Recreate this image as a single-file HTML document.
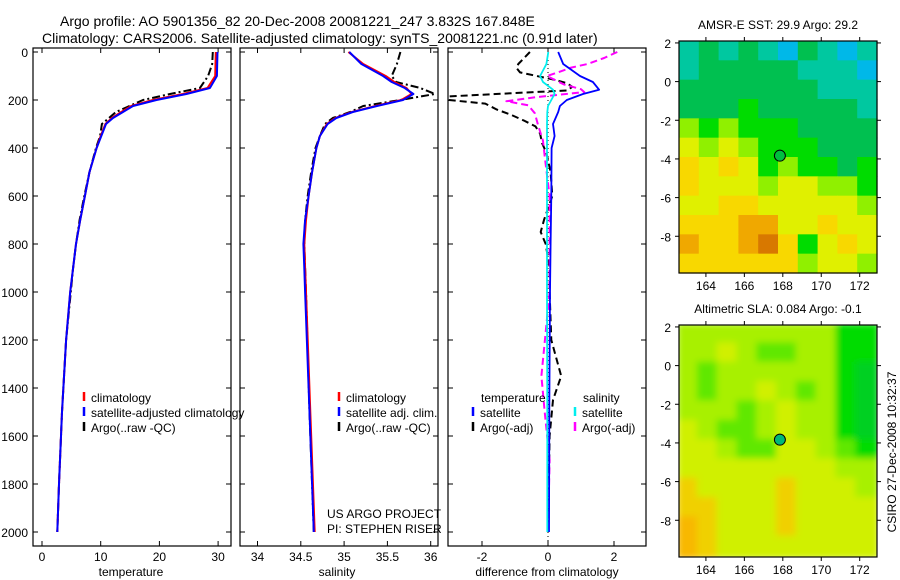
<!DOCTYPE html>
<html><head><meta charset="utf-8"><style>
html,body{margin:0;padding:0;background:#fff;}
svg{display:block;font-family:"Liberation Sans",sans-serif;}
</style></head><body>
<svg id="c" width="900" height="580" viewBox="0 0 900 580">
<defs>
<clipPath id="cp1"><rect x="33" y="48" width="198" height="498"/></clipPath>
<clipPath id="cp2"><rect x="240" y="48" width="198" height="498"/></clipPath>
<clipPath id="cp3"><rect x="448" y="48" width="199" height="498"/></clipPath>
<clipPath id="cpm2"><rect x="679" y="325" width="198" height="232"/></clipPath>
<filter id="blur" x="-5%" y="-5%" width="110%" height="110%"><feGaussianBlur stdDeviation="3.5"/></filter>
</defs>
<text x="60" y="26" font-size="14">Argo profile: AO 5901356_82 20-Dec-2008 20081221_247 3.832S 167.848E</text>
<text x="42" y="43" font-size="14">Climatology: CARS2006. Satellite-adjusted climatology: synTS_20081221.nc (0.91d later)</text>
<g id="g"></g>
</svg>
<script>
// ---------- profile data ----------
const depthT = [0,100,150,175,200,225,250,275,300,350,400,500,600,700,800,900,1000,1200,1500,1800,2000];
const tempSat = [29.9,29.8,28.6,24.6,19.5,15.5,13.8,12.1,10.9,10.1,9.3,8.1,7.3,6.5,5.8,5.3,4.8,4.1,3.4,2.9,2.6];
const tempClim = [29.6,29.5,28.2,24.0,18.9,15.2,13.5,11.9,10.8,10.0,9.3,8.1,7.3,6.5,5.8,5.3,4.8,4.1,3.4,2.9,2.6];
const depthA = [0,50,100,150,175,200,250,300,350,400,500,600,700,800,900,1000,1200,1500,1800,2000];
const tempArgo = [29.1,29.0,28.3,26.9,21.8,17.2,12.6,10.2,9.9,9.2,8.1,7.2,6.4,5.8,5.3,4.9,4.1,3.4,2.9,2.6];
const depthS = [0,50,100,125,150,175,200,225,250,275,300,350,400,500,600,700,800,900,1000,1500,2000];
const salSat = [35.06,35.2,35.45,35.55,35.7,35.8,35.68,35.38,35.1,34.91,34.81,34.72,34.68,34.63,34.59,34.55,34.53,34.54,34.55,34.6,34.65];
const salClim = [35.05,35.22,35.48,35.58,35.72,35.78,35.66,35.36,35.09,34.9,34.8,34.72,34.68,34.63,34.59,34.56,34.54,34.55,34.56,34.61,34.66];
const salArgo = [35.65,35.61,35.55,35.6,35.88,36.05,35.65,35.22,35.07,34.87,34.78,34.72,34.67,34.62,34.58,34.55,34.54,34.55,34.56,34.6,34.65];
const depthD = [0,50,100,125,157,175,200,225,250,300,350,400,600,800,1000,1500,2000];
const dTempSat = [0.31,0.46,0.97,1.36,1.55,1.06,0.57,0.36,0.31,0.15,0.2,0.11,0.1,0.08,0.06,0.04,0.03];
const dSalSat = [0.01,-0.05,-0.24,-0.15,0.15,0.2,0.1,0.0,-0.02,-0.03,-0.03,-0.03,-0.03,-0.03,-0.03,-0.02,-0.02];
const depthDA = [0,50,67,85,100,115,130,145,160,185,200,215,240,260,285,310,340,380,420,500,600,700,750,800,900,1000,1200,1350,1450,1600,2000];
const dTempArgo = [-0.55,-0.9,-0.95,-0.85,-0.34,0.18,0.58,0.73,0.6,-3.0,-3.0,-1.9,-1.55,-1.15,-0.74,-0.38,-0.24,-0.18,-0.05,0.08,0.13,-0.12,-0.22,-0.07,0.05,0.05,0.1,0.4,0.15,0.05,0.0];
const depthSA = [0,25,50,65,85,100,135,155,167,188,205,222,255,305,370,435,600,1000,1350,1500,1700,2000];
const dSalArgo = [2.1,1.7,1.2,0.7,0.3,-0.03,0.48,1.0,1.1,-0.35,-1.26,-0.6,-0.4,-0.3,-0.15,-0.1,0.05,0.05,-0.2,-0.1,0.05,0.0];
const depthTicks = [0,200,400,600,800,1000,1200,1400,1600,1800,2000];
const tempTicks = [0,10,20,30];
const salTicks = [34,34.5,35,35.5,36];
const salTickLabels = ["34","34.5","35","35.5","36"];
const diffTicks = [-2,0,2];
const diffTickLabels = ["-2","0","2"];
// ---------- map data (colour level per 1-degree cell, rows north->south) ----------
const sstGrid = [
[1,2,1,2,1,0,2,1,0,1],
[1,2,2,2,2,2,1,1,1,0],
[2,2,2,2,2,2,2,1,1,1],
[2,2,2,3,2,2,2,2,2,1],
[4,3,4,3,3,3,2,2,2,2],
[5,4,5,4,3,3,3,2,2,2],
[6,5,6,5,3,4,3,3,2,3],
[6,5,5,5,4,5,5,4,4,3],
[5,5,6,6,5,5,5,5,5,4],
[6,6,6,7,7,5,5,6,5,5],
[7,6,6,7,8,6,3,5,6,5],
[6,6,6,6,6,6,4,5,5,4]];
const slaGrid = [
[4,4,4,4,4,4,4,4,2,2],
[4,4,5,4,3,3,4,4,2,2],
[4,3,4,4,4,4,4,4,2,1],
[4,3,4,4,5,4,3,4,2,1],
[4,4,4,3,4,5,4,4,2,1],
[5,4,3,3,4,5,4,4,2,1],
[5,5,4,3,3,5,5,4,3,2],
[5,5,5,5,5,5,5,5,4,4],
[6,5,5,5,5,6,5,5,5,4],
[6,6,5,5,5,6,5,5,5,5],
[7,6,5,5,5,6,5,5,5,5],
[7,6,5,5,5,5,5,5,5,5]];
const lonTicks = [164,166,168,170,172];
const latTicks = [2,0,-2,-4,-6,-8];
const argoLon = 167.848, argoLat = -3.832;

const sstColors = ['#00b8e8','#00c8a0','#00c050','#00dc00','#90f000','#e0f000','#f8d800','#f0a800','#d87800'];
const slaColors = ['#00c8a0','#00d020','#00dc00','#60e800','#a8f000','#d0f000','#f0d000','#f8b800'];

const NS='http://www.w3.org/2000/svg';
const G=document.getElementById('g');
function mk(tag,attrs,parent){const e=document.createElementNS(NS,tag);for(const k in attrs)e.setAttribute(k,attrs[k]);(parent||G).appendChild(e);return e;}
const yD = d => 52 + d*0.24;
const xT = v => 42 + v*5.87;
const xS = v => 257.5 + (v-34)*86.6;
const xDf = v => 548 + v*33;
const panels=[{x:33,name:'temperature'},{x:240,name:'salinity'},{x:448,name:'difference'}];
panels.forEach(p=>{
  const r=mk('rect',{x:p.x,y:48,width:198,height:498,fill:'none',stroke:'#000','stroke-width':1.2});
  
  
  depthTicks.forEach(d=>{
    mk('line',{x1:p.x,x2:p.x+5,y1:yD(d),y2:yD(d),stroke:'#000'});
    mk('line',{x1:p.x+198,x2:p.x+193,y1:yD(d),y2:yD(d),stroke:'#000'});
  });
});
depthTicks.forEach(d=>{
  const t=mk('text',{x:28,y:yD(d)+5,'font-size':12,'text-anchor':'end'});t.textContent=d;
  
  
});
function xticks(ticks,labels,fx){ticks.forEach((v,i)=>{const x=fx(v);
  mk('line',{x1:x,x2:x,y1:48,y2:53,stroke:'#000'});mk('line',{x1:x,x2:x,y1:546,y2:541,stroke:'#000'});
  const t=mk('text',{x:x,y:561,'font-size':12,'text-anchor':'middle'});t.textContent=labels[i];
  
  });}
xticks(tempTicks,tempTicks.map(String),xT);
xticks(salTicks,salTickLabels,xS);
xticks(diffTicks,diffTickLabels,xDf);
[['temperature',131],['salinity',337],['difference from climatology',547]].forEach(a=>{
  const t=mk('text',{x:a[1],y:576,'font-size':12,'text-anchor':'middle'});t.textContent=a[0];
  
  });
function line(depths,vals,fx,color,dash,w,clip,name){
  const pts=depths.map((d,i)=>fx(vals[i]).toFixed(1)+','+yD(d).toFixed(1)).join(' ');
  const a={points:pts,fill:'none',stroke:color,'stroke-width':w,'clip-path':'url(#'+clip+')','stroke-linejoin':'round'};
  if(dash)a['stroke-dasharray']=dash;
  const e=mk('polyline',a);
  
  
}
line(depthA,tempArgo,xT,'#000','8 3 2 3',2,'cp1','temp-argo-line');
line(depthT,tempClim,xT,'#f00',null,2,'cp1','temp-climatology-line');
line(depthT,tempSat,xT,'#00f',null,2,'cp1','temp-satellite-line');
line(depthS,salArgo,xS,'#000','8 3 2 3',2,'cp2','sal-argo-line');
line(depthS,salClim,xS,'#f00',null,2,'cp2','sal-climatology-line');
line(depthS,salSat,xS,'#00f',null,2,'cp2','sal-satellite-line');
mk('line',{x1:548,x2:548,y1:48,y2:546,stroke:'#000','stroke-dasharray':'1 3'});
line(depthDA,dTempArgo,xDf,'#000','7 4',2,'cp3','diff-temp-argo-line');
line(depthSA,dSalArgo,xDf,'#f0f','7 4',2,'cp3','diff-sal-argo-line');
line(depthD,dTempSat,xDf,'#00f',null,1.8,'cp3','diff-temp-satellite-line');
line(depthD,dSalSat,xDf,'#0ee',null,1.8,'cp3','diff-sal-satellite-line');
// legends
function leg(x,y,color,label,name){
  mk('line',{x1:x,x2:x,y1:y-10,y2:y-1,stroke:color,'stroke-width':2.5});
  const t=mk('text',{x:x+7,y:y,'font-size':12});t.textContent=label;
  
  
}
leg(84,402,'#f00','climatology','legend-climatology');
leg(84,417,'#00f','satellite-adjusted climatology','legend-satellite-adjusted');
leg(84,432,'#000','Argo(..raw -QC)','legend-argo');
leg(339,402,'#f00','climatology','legend-sal-climatology');
leg(339,417,'#00f','satellite adj. clim.','legend-sal-satellite');
leg(339,432,'#000','Argo(..raw -QC)','legend-sal-argo');
[['temperature',481,402],['salinity',583,402],['US ARGO PROJECT',327,518],['PI: STEPHEN RISER',327,533]].forEach(a=>{
  const t=mk('text',{x:a[1],y:a[2],'font-size':12});t.textContent=a[0];
  
  });
leg(473,417,'#00f','satellite','legend-diff-temp-satellite');
leg(473,432,'#000','Argo(-adj)','legend-diff-temp-argo');
leg(575,417,'#0ee','satellite','legend-diff-sal-satellite');
leg(575,432,'#f0f','Argo(-adj)','legend-diff-sal-argo');
// maps
function drawMap(top,grid,colors,clip,blur,title,name,dotFill){
  const L=679,W=198,H=232,lonMin=162.6,lonMax=172.9,latMax=2.1,latMin=-9.9;
  const fx=v=>L+(v-lonMin)/(lonMax-lonMin)*W, fy=v=>top+(latMax-v)/(latMax-latMin)*H;
  const grp=mk('g',clip?{'clip-path':'url(#'+clip+')'}:{});
  const inner=mk('g',blur?{filter:'url(#blur)'}:{},grp);
  const rows=grid.length,cols=grid[0].length,cw=W/cols,ch=H/rows;
  grid.forEach((row,r)=>row.forEach((v,c)=>{
    const e=mk('rect',{x:L+c*cw-(blur?2:0),y:top+r*ch-(blur?2:0),width:cw+(blur?4:0.6),height:ch+(blur?4:0.6),fill:colors[v]},inner);
    
    
  }));
  const f=mk('rect',{x:L,y:top,width:W,height:H,fill:'none',stroke:'#000','stroke-width':1.2});
  
  
  lonTicks.forEach(v=>{const x=fx(v);mk('line',{x1:x,x2:x,y1:top,y2:top-4,stroke:'#000'});mk('line',{x1:x,x2:x,y1:top+H,y2:top+H+4,stroke:'#000'});
    const t=mk('text',{x:x,y:top+H+17,'font-size':12,'text-anchor':'middle'});t.textContent=v;
    
    });
  latTicks.forEach(v=>{const y=fy(v);mk('line',{x1:L,x2:L-4,y1:y,y2:y,stroke:'#000'});mk('line',{x1:L+W,x2:L+W+4,y1:y,y2:y,stroke:'#000'});
    const t=mk('text',{x:L-8,y:y+5,'font-size':12,'text-anchor':'end'});t.textContent=v;
    
    });
  const c=mk('circle',{cx:fx(argoLon),cy:fy(argoLat),r:5.5,fill:dotFill,stroke:'#000','stroke-width':1});
  
  
  const t=mk('text',{x:L+W/2,y:top-12,'font-size':12,'text-anchor':'middle'});t.textContent=title;
  
  
}
drawMap(41,sstGrid,sstColors,null,false,'AMSR-E SST: 29.9 Argo: 29.2','sst-map','#00c040');
drawMap(325,slaGrid,slaColors,'cpm2',true,'Altimetric SLA: 0.084 Argo: -0.1','sla-map','#00b878');
const v=mk('text',{x:0,y:0,'font-size':12,'text-anchor':'middle',transform:'translate(896,452) rotate(-90)'});
v.textContent='CSIRO 27-Dec-2008 10:32:37';


</script>
</body></html>
